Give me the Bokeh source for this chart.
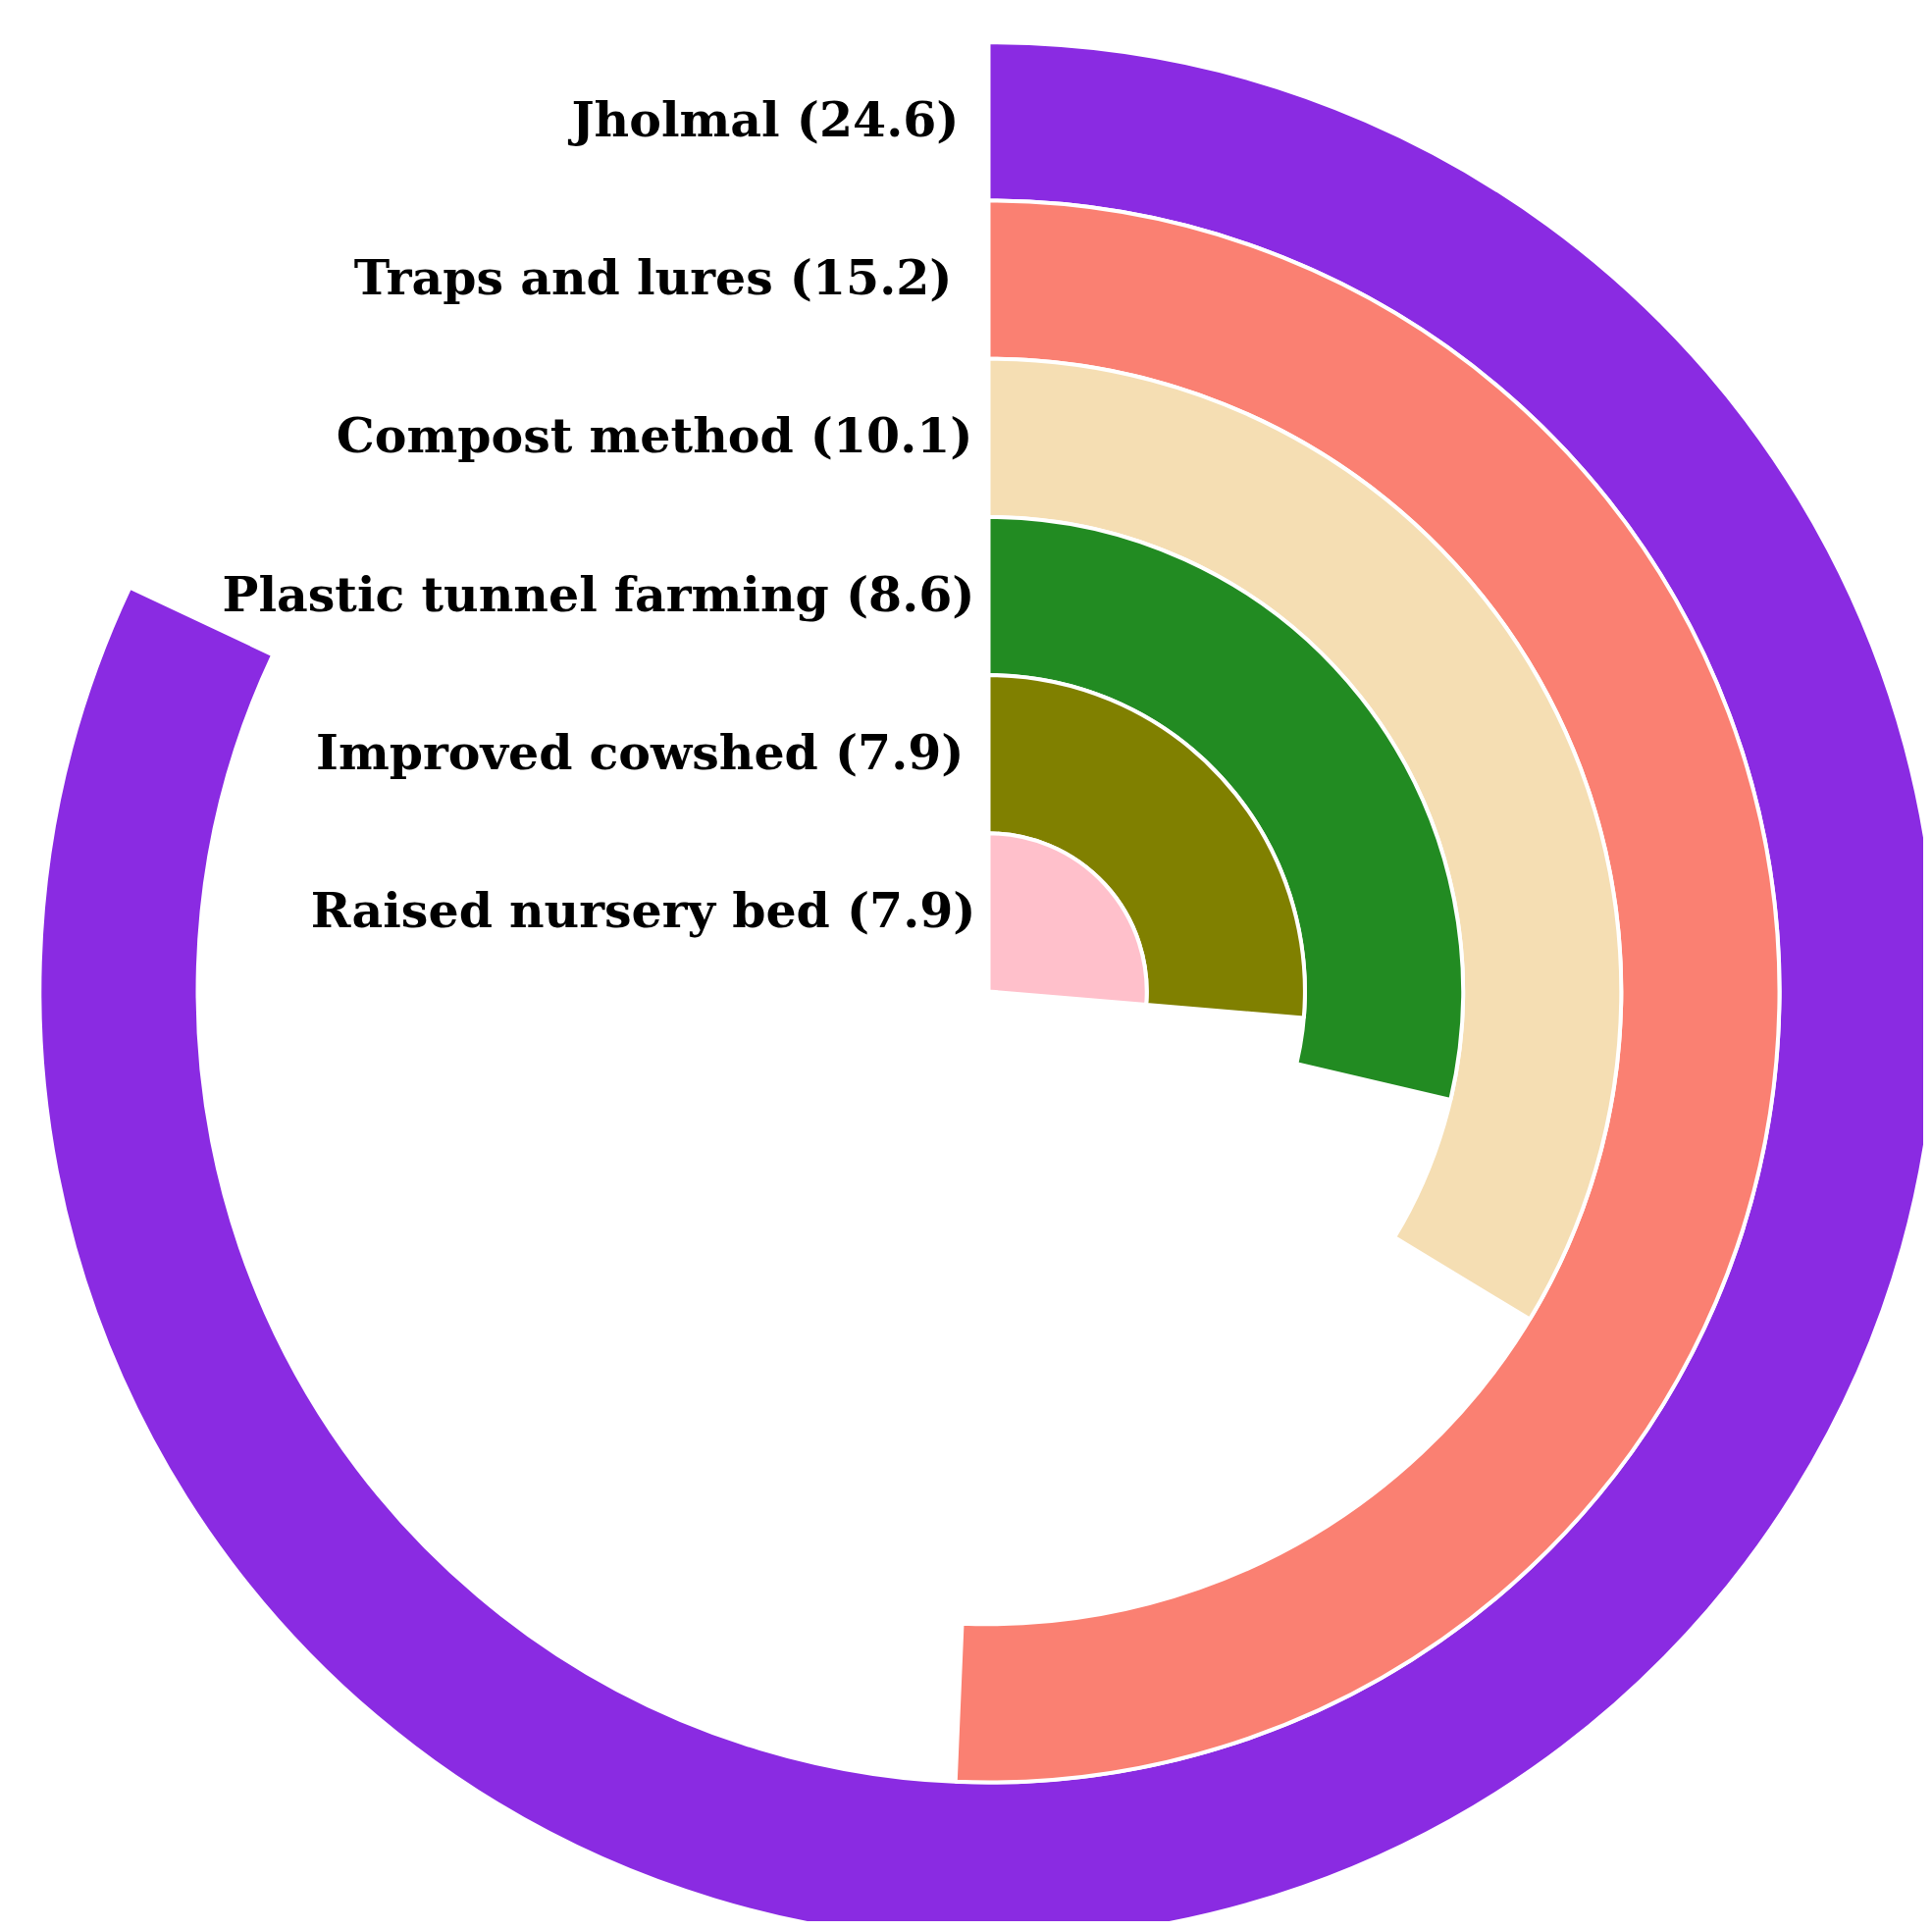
import math
from bokeh.plotting import figure
from bokeh.models import Range1d, ColumnDataSource
from bokeh.core.properties import value
from bokeh.embed import file_html
from bokeh.resources import INLINE

# ---- data (outermost first) ----
practices = ["Jholmal", "Traps and lures", "Compost method",
             "Plastic tunnel farming", "Improved cowshed", "Raised nursery bed"]
scores = [24.6, 15.2, 10.1, 8.6, 7.9, 7.9]
colors = ["#8A2BE2", "#FA8072", "#F5DEB3", "#228B22", "#808000", "#FFC0CB"]
FULL_SCALE = 30.0  # value that would close a full circle

# ---- layout ----
W, H = 1960, 1958
CX, CY = 1007, 1010          # centre in figure pixels
RING = 161.2                 # ring thickness in pixels
label_dx = [-30, -37, -16, -14, -25, -13]
label_dy = 2

n = len(practices)
rank = [n - 1 - i for i in range(n)]          # 0 = innermost
inner = [r * RING for r in rank]
outer = [(r + 1) * RING for r in rank]
start = [math.pi / 2] * n
end = [math.pi / 2 - 2 * math.pi * v / FULL_SCALE for v in scores]
labels = [f"{p} ({v})" for p, v in zip(practices, scores)]
ly = [(r + 0.5) * RING + label_dy for r in rank]

src = ColumnDataSource(dict(inner=inner, outer=outer, start=start, end=end,
                            color=colors, x=[0] * n, y=[0] * n))
lsrc = ColumnDataSource(dict(x=label_dx, y=ly, text=labels))

p = figure(width=W, height=H, output_backend="svg", toolbar_location=None,
           x_range=Range1d(-CX, W - CX), y_range=Range1d(-(H - CY), CY),
           x_axis_type=None, y_axis_type=None, min_border=0,
           outline_line_color=None, background_fill_color="white")
p.grid.visible = False

p.annular_wedge(x="x", y="y", inner_radius="inner", outer_radius="outer",
                start_angle="start", end_angle="end", direction="clock",
                fill_color="color", line_color="white", line_width=4,
                source=src)

p.text(x="x", y="y", text="text", source=lsrc,
       text_font=value("DejaVu Serif"), text_font_style="bold",
       text_font_size="49px", text_align="right", text_baseline="middle",
       text_color="black")

open("out.html", "w").write(file_html(p, INLINE))
